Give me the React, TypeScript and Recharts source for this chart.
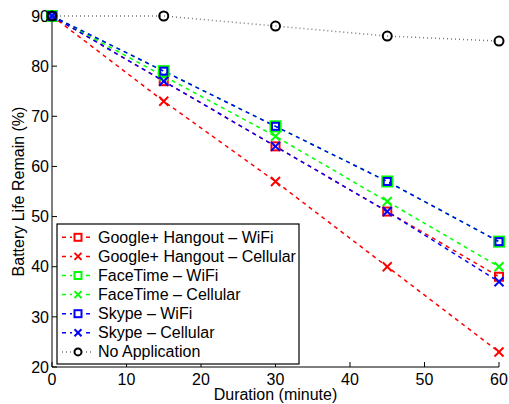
import React from 'react';
import { Line, LineChart, XAxis, YAxis } from 'recharts';

const minutes = [0, 15, 30, 45, 60];
const googleWifi = [90, 77, 64, 51, 38];
const googleCell = [90, 73, 57, 40, 23];
const facetimeWifi = [90, 79, 68, 57, 45];
const facetimeCell = [90, 78, 66, 53, 40];
const skypeWifi = [90, 79, 68, 57, 45];
const skypeCell = [90, 77, 64, 51, 37];
const noApp = [90, 90, 88, 86, 85];

const xTicks = [0, 10, 20, 30, 40, 50, 60];
const yTicks = [20, 30, 40, 50, 60, 70, 80, 90];

type Series = {
  key: string;
  name: string;
  values: number[];
  color: string;
  marker: 'square' | 'cross' | 'circle';
  markerColor: string;
  markerSize: number;
  dash: string;
};

const SERIES: Series[] = [
  { key: 'gw', name: 'Google+ Hangout – WiFi', values: googleWifi, color: '#ff0000', marker: 'square', markerColor: '#ff0000', markerSize: 8, dash: '4 4' },
  { key: 'gc', name: 'Google+ Hangout – Cellular', values: googleCell, color: '#ff0000', marker: 'cross', markerColor: '#ff0000', markerSize: 9, dash: '4 4' },
  { key: 'fw', name: 'FaceTime – WiFi', values: facetimeWifi, color: '#00ff00', marker: 'square', markerColor: '#00ff00', markerSize: 10, dash: '4 4' },
  { key: 'fc', name: 'FaceTime – Cellular', values: facetimeCell, color: '#00ff00', marker: 'cross', markerColor: '#00ff00', markerSize: 9, dash: '4 4' },
  { key: 'sw', name: 'Skype – WiFi', values: skypeWifi, color: '#0000ff', marker: 'square', markerColor: '#0000ff', markerSize: 7, dash: '4 4' },
  { key: 'sc', name: 'Skype – Cellular', values: skypeCell, color: '#0000ff', marker: 'cross', markerColor: '#0000ff', markerSize: 9, dash: '4 4' },
  { key: 'na', name: 'No Application', values: noApp, color: '#777777', marker: 'circle', markerColor: '#000000', markerSize: 9, dash: '1 3' },
];

const data = minutes.map((m, i) => {
  const row: Record<string, number> = { minute: m };
  SERIES.forEach((s) => {
    row[s.key] = s.values[i];
  });
  return row;
});

const FONT = '"Liberation Sans", Arial, sans-serif';

function Marker({ s, cx, cy }: { s: Series; cx: number; cy: number }) {
  const h = s.markerSize / 2;
  if (s.marker === 'square') {
    return (
      <rect x={cx - h} y={cy - h} width={h * 2} height={h * 2} fill="none" stroke={s.markerColor} strokeWidth={2} />
    );
  }
  if (s.marker === 'cross') {
    return (
      <g stroke={s.markerColor} strokeWidth={2}>
        <line x1={cx - h} y1={cy - h} x2={cx + h} y2={cy + h} />
        <line x1={cx - h} y1={cy + h} x2={cx + h} y2={cy - h} />
      </g>
    );
  }
  return <circle cx={cx} cy={cy} r={h} fill="none" stroke={s.markerColor} strokeWidth={2} />;
}

function LegendBox() {
  const rowH = 19.1;
  return (
    <svg width={244} height={142} style={{ position: 'absolute', left: 56, top: 223 }}>
      <rect x={1} y={1} width={242} height={140} fill="#fff" stroke="#000" strokeWidth={1.2} />
      {SERIES.map((s, i) => {
        const y = 14.3 + i * rowH;
        return (
          <g key={s.key}>
            <line x1={6} y1={y} x2={38} y2={y} stroke={s.color} strokeWidth={1.5} strokeDasharray={s.dash} />
            <rect x={16} y={y - 6} width={12} height={12} fill="#fff" />
            <Marker s={{ ...s, markerSize: 7 }} cx={22} cy={y} />
            <text x={42} y={y + 5.5} fontSize={16} fontFamily={FONT} fill="#000">
              {s.name}
            </text>
          </g>
        );
      })}
    </svg>
  );
}

export default function App() {
  return (
    <div style={{ position: 'absolute', left: 0, top: 0, width: 509, height: 404, background: '#fff' }}>
      <LineChart width={509} height={404} data={data} margin={{ top: 16, right: 10, left: 0, bottom: 0 }}>
        <XAxis
          dataKey="minute"
          type="number"
          domain={[0, 60]}
          ticks={xTicks}
          tickSize={-5}
          tickMargin={12}
          height={37}
          stroke="#000"
          tick={{ fontSize: 16, fontFamily: FONT, fill: '#000' }}
          label={{ value: 'Duration (minute)', position: 'insideBottom', offset: 4, fontSize: 16, fontFamily: FONT, fill: '#000' }}
        />
        <YAxis
          type="number"
          domain={[20, 90]}
          ticks={yTicks}
          tickSize={-5}
          tickMargin={8}
          width={52}
          stroke="#000"
          tick={{ fontSize: 16, fontFamily: FONT, fill: '#000' }}
          label={{ value: 'Battery Life Remain (%)', angle: -90, position: 'insideLeft', offset: 18, style: { textAnchor: 'middle' }, fontSize: 16, fontFamily: FONT, fill: '#000' }}
        />
        {SERIES.map((s) => (
          <Line
            key={s.key}
            dataKey={s.key}
            name={s.name}
            type="linear"
            stroke={s.color}
            strokeWidth={1.5}
            strokeDasharray={s.dash}
            isAnimationActive={false}
            activeDot={false}
            dot={(p: any) => <Marker key={`${s.key}-${p.index}`} s={s} cx={p.cx} cy={p.cy} />}
          />
        ))}
      </LineChart>
      <LegendBox />
    </div>
  );
}
